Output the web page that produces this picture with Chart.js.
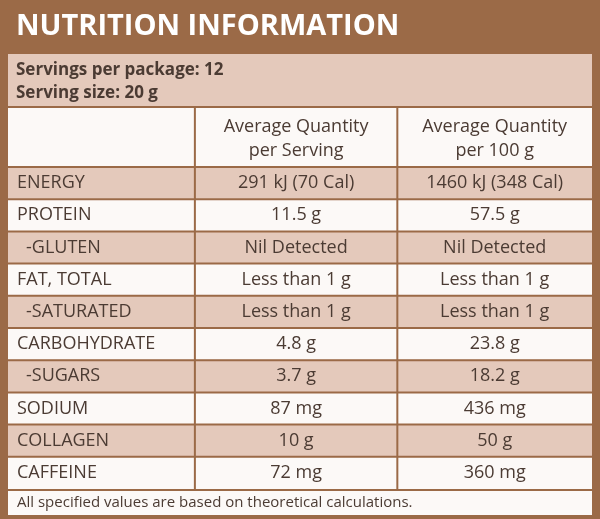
<!DOCTYPE html>
<html><head><meta charset="utf-8">
<script src="https://cdn.jsdelivr.net/npm/chart.js@4"></script>
<style>html,body{margin:0;padding:0;background:#fff}#c{display:block}</style>
</head><body>
<div style="width:600px;height:519px"><canvas id="c"></canvas></div>
<script>
const title = 'NUTRITION INFORMATION';
const servingLines = ['Servings per package: 12', 'Serving size: 20 g'];
const colHeaders = [['Average Quantity', 'per Serving'], ['Average Quantity', 'per 100 g']];
const nutrients = ['ENERGY', 'PROTEIN', ' -GLUTEN', 'FAT, TOTAL', ' -SATURATED', 'CARBOHYDRATE', ' -SUGARS', 'SODIUM', 'COLLAGEN', 'CAFFEINE'];
const perServing = ['291 kJ (70 Cal)', '11.5 g', 'Nil Detected', 'Less than 1 g', 'Less than 1 g', '4.8 g', '3.7 g', '87 mg', '10 g', '72 mg'];
const per100g = ['1460 kJ (348 Cal)', '57.5 g', 'Nil Detected', 'Less than 1 g', 'Less than 1 g', '23.8 g', '18.2 g', '436 mg', '50 g', '360 mg'];
const footnote = 'All specified values are based on theoretical calculations.';

const BROWN = '#9b6a47', TAN = '#e4c9bb', LIGHT = '#fcf9f7', TEXT = '#4b3b33';
const FONT = '"Open Sans", "DejaVu Sans", sans-serif';

// ---------- Dibuix de la taula ----------
const tablePlugin = {
  id: 'table',
  beforeDraw(chart) {
    const ctx = chart.ctx, a = chart.chartArea;
    ctx.save();
    ctx.fillStyle = BROWN;
    ctx.fillRect(0, 0, chart.width, chart.height);
    ctx.fillStyle = '#fff';
    ctx.font = 'bold 29px ' + FONT;
    ctx.textBaseline = 'middle';
    ctx.fillText(title, 16, 27);
    ctx.fillStyle = TAN;
    ctx.fillRect(a.left, 54, a.right - a.left, 52);
    ctx.fillStyle = TEXT;
    ctx.font = 'bold 17px ' + FONT;
    ctx.fillText(servingLines[0], 16, 70);
    ctx.fillText(servingLines[1], 16, 93);
    ctx.fillStyle = LIGHT;
    ctx.fillRect(a.left, 108, a.right - a.left, a.top - 108);
    ctx.fillRect(a.left, a.bottom + 2, a.right - a.left, chart.height - a.bottom - 6);
    ctx.restore();
  },
  afterDraw(chart) {
    const ctx = chart.ctx, a = chart.chartArea, x = chart.scales.x, y = chart.scales.y;
    const c1 = x.getPixelForValue(0.96), c2 = x.getPixelForValue(2);
    ctx.save();
    ctx.strokeStyle = BROWN;
    ctx.lineWidth = 2;
    ctx.beginPath();
    [c1, c2].forEach(cx => { ctx.moveTo(cx, 108); ctx.lineTo(cx, a.bottom); });
    nutrients.forEach((n, i) => {
      const yy = y.getPixelForValue(i) - (y.getPixelForValue(1) - y.getPixelForValue(0)) / 2;
      ctx.moveTo(a.left, yy); ctx.lineTo(a.right, yy);
    });
    ctx.moveTo(a.left, a.bottom + 1); ctx.lineTo(a.right, a.bottom + 1);
    ctx.stroke();
    ctx.fillStyle = TEXT;
    ctx.textBaseline = 'middle';
    ctx.font = '18px ' + FONT;
    ctx.textAlign = 'center';
    const m1 = (c1 + c2) / 2, m2 = (c2 + a.right) / 2;
    [m1, m2].forEach((mx, k) => {
      ctx.fillText(colHeaders[k][0], mx, 127);
      ctx.fillText(colHeaders[k][1], mx, 151);
    });
    nutrients.forEach((n, i) => {
      const yy = y.getPixelForValue(i);
      ctx.textAlign = 'left';
      ctx.fillText(n.trim(), n.startsWith(' ') ? 26 : 17, yy);
      ctx.textAlign = 'center';
      ctx.fillText(perServing[i], m1, yy);
      ctx.fillText(per100g[i], m2, yy);
    });
    ctx.textAlign = 'left';
    ctx.font = '15px ' + FONT;
    ctx.fillText(footnote, 17, (a.bottom + chart.height - 4) / 2 + 1);
    ctx.restore();
  }
};

new Chart(document.getElementById('c'), {
  type: 'bar',
  data: {
    labels: nutrients,
    datasets: [{
      data: nutrients.map(() => [0, 3]),
      backgroundColor: nutrients.map((n, i) => i % 2 === 0 ? TAN : LIGHT),
      barPercentage: 1,
      categoryPercentage: 1,
      borderWidth: 0
    }]
  },
  options: {
    indexAxis: 'y',
    responsive: true,
    maintainAspectRatio: false,
    animation: false,
    layout: { padding: { top: 167, bottom: 30, left: 8, right: 8 } },
    scales: {
      x: { display: false, min: 0, max: 3 },
      y: { display: false }
    },
    plugins: { legend: { display: false }, tooltip: { enabled: false } }
  },
  plugins: [tablePlugin]
});
</script>
</body></html>
